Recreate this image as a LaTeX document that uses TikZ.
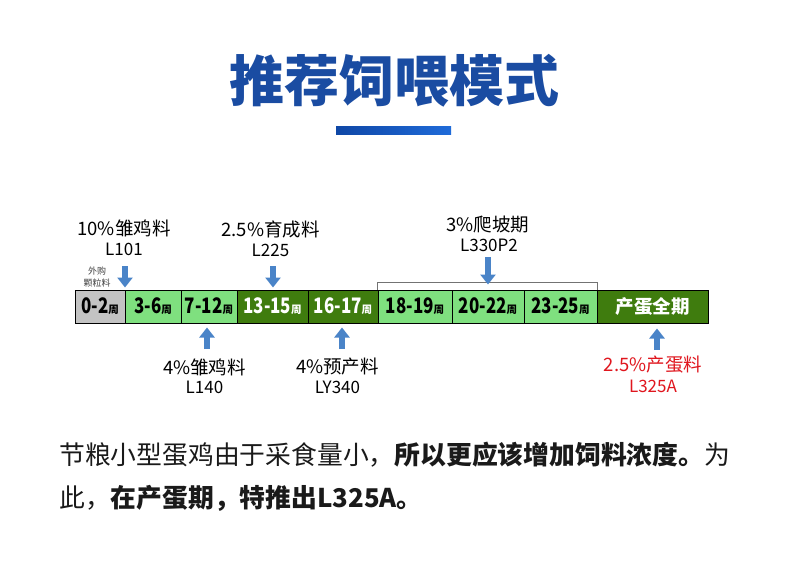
\documentclass[tikz,border=0pt]{standalone}
\usepackage{fontspec}
\setmainfont{Noto Sans CJK SC}
\usetikzlibrary{arrows.meta}
\definecolor{titleblue}{HTML}{1A4CA2}
\definecolor{barL}{HTML}{0F47A6}
\definecolor{barR}{HTML}{1F6BD9}
\definecolor{cellgray}{HTML}{C3C3C3}
\definecolor{lightg}{HTML}{7FE07F}
\definecolor{darkg}{HTML}{3F7C0E}
\definecolor{arrblue}{HTML}{4A84C8}
\definecolor{labred}{HTML}{E0161E}
\definecolor{bodytxt}{HTML}{1A1A1A}
\newcommand{\fs}[1]{\fontsize{#1}{#1}\selectfont}
\newcommand{\wk}[1]{\scalebox{0.97}[1.22]{\textbf{\fs{17.5}#1}}{\fs{10.5}\textbf{周}}}
\begin{document}
\begin{tikzpicture}[x=1pt,y=-1pt,
  cell/.style={draw=black,line width=1pt,minimum height=33pt,inner sep=0pt,anchor=center},
  lab/.style={inner sep=0pt,anchor=center,text=black},
  arr/.style={arrblue,line width=6.5pt,-{Triangle[width=15pt,length=10pt]}},
]
\useasboundingbox (0,0) rectangle (790,582);
\fill[white] (0,0) rectangle (790,582);
% title
\node[lab,text=titleblue] (title) at (394,81) {\fs{55}\textbf{推荐饲喂模式}};
\shade[left color=barL,right color=barR] (336,126) rectangle (451,134);
% cells
\node[cell,fill=cellgray,minimum width=50pt] (c0) at (100,306.5) {\wk{0-2}};
\node[cell,fill=lightg,minimum width=56pt] (c1) at (153,306.5) {\wk{3-6}};
\node[cell,fill=lightg,minimum width=56pt] (c2) at (209,306.5) {\wk{7-12}};
\node[cell,fill=darkg,minimum width=71pt,text=white] (c3) at (272.5,306.5) {\wk{13-15}};
\node[cell,fill=darkg,minimum width=70pt,text=white] (c4) at (343,306.5) {\wk{16-17}};
\node[cell,fill=lightg,minimum width=74pt] (c5) at (415,306.5) {\wk{18-19}};
\node[cell,fill=lightg,minimum width=72pt] (c6) at (488,306.5) {\wk{20-22}};
\node[cell,fill=lightg,minimum width=73pt] (c7) at (560.5,306.5) {\wk{23-25}};
\node[cell,fill=darkg,minimum width=111pt,text=white] (c8) at (652.5,306.5) {\textbf{\fs{18.5}产蛋全期}};
% bracket
\draw[draw=black!55,line width=0.9pt] (c5.north west) -- ++(0,-7) -| (c7.north east);
% top labels
\node[lab] (t1) at (124,228) {\fs{18.5}10\%雏鸡料};
\node[lab] (t1b) at (124,249) {\fs{17}L101};
\node[lab] (t2) at (270.5,229) {\fs{18.5}2.5\%育成料};
\node[lab] (t2b) at (270.5,250) {\fs{17}L225};
\node[lab] (t3) at (488,225) {\fs{18.5}3\%爬坡期};
\node[lab] (t3b) at (489,245) {\fs{17}L330P2};
\node[lab,text=black!75] (buy1) at (97,271) {\fs{9}外购};
\node[lab,text=black!75] (buy2) at (97,283) {\fs{9}颗粒料};
% bottom labels
\node[lab] (b1) at (204.5,367) {\fs{18.5}4\%雏鸡料};
\node[lab] (b1b) at (204.5,387) {\fs{17}L140};
\node[lab] (b2) at (337.5,367) {\fs{18.5}4\%预产料};
\node[lab] (b2b) at (337.5,387) {\fs{17}LY340};
\node[lab,text=labred] (b3) at (653,365) {\fs{18.5}2.5\%产蛋料};
\node[lab,text=labred] (b3b) at (653,386) {\fs{17}L325A};
% arrows
\coordinate (a1) at (125,266);
\coordinate (a2) at (273,266);
\coordinate (a3) at (488,257);
\draw[arr,shorten >=2pt] (a1) -- (a1 |- c0.north);
\draw[arr,shorten >=2pt] (a2) -- (a2 |- c3.north);
\draw[arr,shorten >=5pt] (a3) -- (a3 |- c6.north);
\coordinate (u1) at (207,349);
\coordinate (u2) at (342,349);
\coordinate (u3) at (657,350);
\draw[arr,shorten >=4pt] (u1) -- (u1 |- c2.south);
\draw[arr,shorten >=4pt] (u2) -- (u2 |- c4.south);
\draw[arr,shorten >=5pt] (u3) -- (u3 |- c8.south);
% body text
\node[lab,anchor=west,text=bodytxt] (p1) at (59,455) {\fs{25.8}节粮小型蛋鸡由于采食量小，\textbf{所以更应该增加饲料浓度。}为};
\node[lab,anchor=west,text=bodytxt] (p2) at (59,498) {\fs{25.8}此，\textbf{在产蛋期，特推出L325A。}};
\end{tikzpicture}
\end{document}
